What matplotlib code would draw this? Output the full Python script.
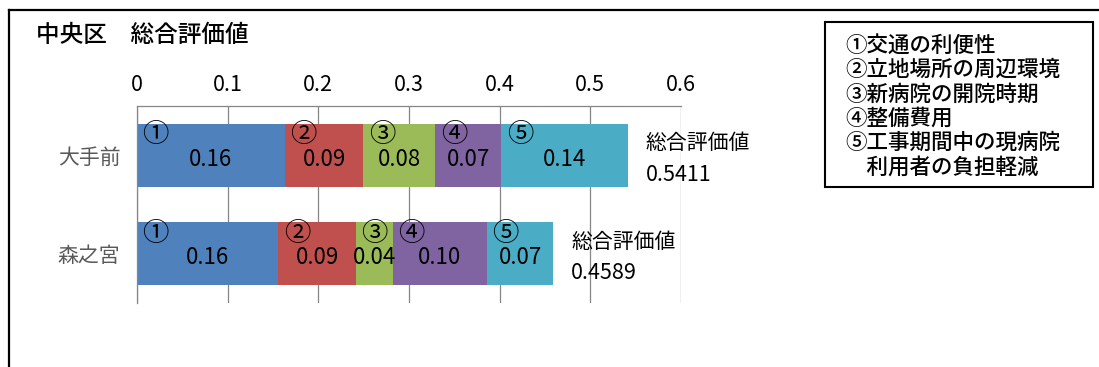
import matplotlib
matplotlib.use("Agg")
import matplotlib.pyplot as plt
from matplotlib.lines import Line2D
from matplotlib.patches import Rectangle
import numpy as np

plt.rcParams['font.family'] = ['Noto Sans CJK JP', 'DejaVu Sans']

# --- data -------------------------------------------------------------
title = '中央区　総合評価値'
sites = ['大手前', '森之宮']
markers = ['①', '②', '③', '④', '⑤']
criteria_lines = ['①交通の利便性', '②立地場所の周辺環境', '③新病院の開院時期',
                  '④整備費用', '⑤工事期間中の現病院', '　利用者の負担軽減']
ote_scores = [0.1632, 0.0866, 0.0790, 0.0729, 0.1394]
morinomiya_scores = [0.1558, 0.0857, 0.0408, 0.1037, 0.0729]
total_caption = '総合評価値'
x_ticks = [0, 0.1, 0.2, 0.3, 0.4, 0.5, 0.6]
x_tick_labels = ['0', '0.1', '0.2', '0.3', '0.4', '0.5', '0.6']
colors = ['#4F81BD', '#C0504D', '#9BBB59', '#8064A2', '#4BACC6']

scores = np.array([ote_scores, morinomiya_scores])

# --- figure -----------------------------------------------------------
W, H = 1099, 367
fig = plt.figure(figsize=(W / 100, H / 100), dpi=100)

def fx(px):
    return px / W

def fy(py):
    return 1 - py / H

# outer frame (top and left edges)
fig.add_artist(Line2D([fx(9), 1], [fy(10), fy(10)], color='black', lw=1.6))
fig.add_artist(Line2D([fx(9), fx(9)], [fy(10), 0], color='black', lw=1.6))

fig.text(fx(36), fy(35), title, fontsize=17, va='center', ha='left',
         fontweight='medium')

ax = fig.add_axes([fx(137), fy(303), fx(681) - fx(137), fy(106) - fy(303)])

ypos = np.arange(len(sites))
bar_h = 0.64
lefts = np.zeros(len(sites))
for j in range(scores.shape[1]):
    vals = scores[:, j]
    ax.barh(ypos, vals, left=lefts, height=bar_h, color=colors[j], zorder=2)
    for i in range(len(sites)):
        ax.annotate(markers[j], (lefts[i], ypos[i] - 0.21), xytext=(4, 0),
                    textcoords='offset points', ha='left', va='center',
                    fontsize=19, zorder=4)
        ax.text(lefts[i] + vals[i] / 2, ypos[i] + 0.04, f'{vals[i]:.2f}',
                ha='center', va='center', fontsize=16, zorder=4)
    lefts = lefts + vals

for i in range(len(sites)):
    total = scores[i].sum()
    ax.annotate(total_caption, (total, ypos[i] - 0.12), xytext=(13, 0),
                textcoords='offset points', ha='left', va='center',
                fontsize=15, zorder=4)
    ax.annotate(f'{total:.4f}', (total, ypos[i] + 0.20), xytext=(13, 0),
                textcoords='offset points', ha='left', va='center',
                fontsize=15.5, zorder=4)

ax.set_xlim(0, 0.6)
ax.set_ylim(1.5, -0.5)
ax.set_xticks(x_ticks)
ax.set_xticklabels(x_tick_labels)
ax.set_yticks(ypos)
ax.set_yticklabels(sites, color='#595959')
ax.xaxis.tick_top()
ax.tick_params(axis='x', length=0, pad=7, labelsize=15.5)
ax.tick_params(axis='y', length=0, pad=12, labelsize=15)
ax.grid(axis='x', color='#868686', lw=0.9, zorder=1)
ax.set_axisbelow(True)
for side in ['right', 'bottom']:
    ax.spines[side].set_visible(False)
for side in ['top', 'left']:
    ax.spines[side].set_color('#868686')
    ax.spines[side].set_linewidth(0.9)

# criteria key box
fig.add_artist(Rectangle((fx(825), fy(187)), fx(1093) - fx(825), fy(22) - fy(187),
                         fill=False, edgecolor='black', lw=1.5))
line_y = [46, 70, 95, 119, 143, 168]
for txt, py in zip(criteria_lines, line_y):
    fig.text(fx(845), fy(py), txt, fontsize=15.5, va='center', ha='left',
             fontweight='medium')

fig.savefig('out.png', dpi=100)
